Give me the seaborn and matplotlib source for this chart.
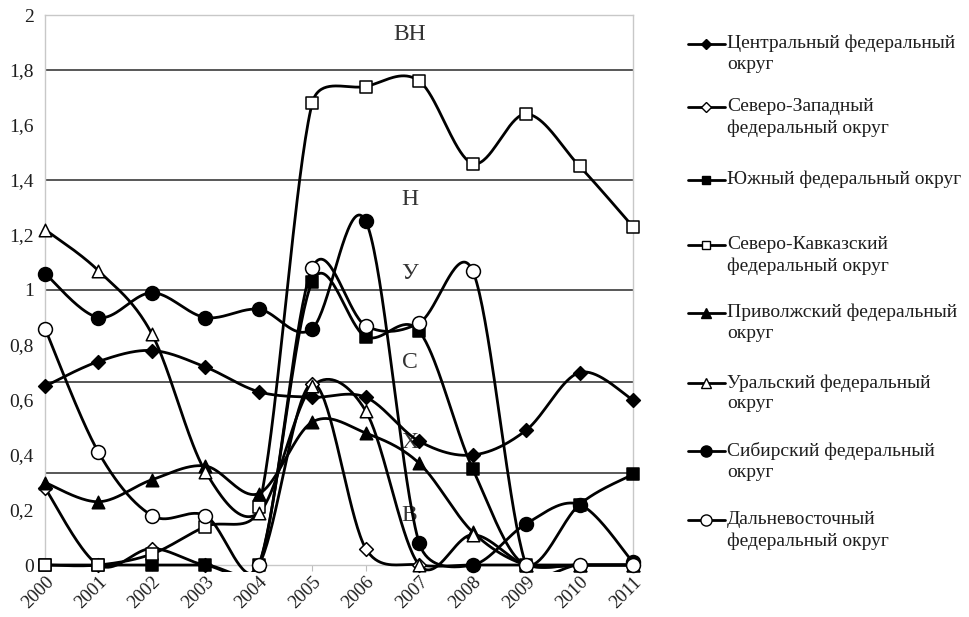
import numpy as np
import pandas as pd
import matplotlib
matplotlib.use("Agg")
import matplotlib.pyplot as plt
import seaborn as sns
from matplotlib.lines import Line2D
from matplotlib.patches import Rectangle

# ---------------- data ----------------
years = list(range(2000, 2012))
year_labels = [str(y) for y in years]

central = [0.65, 0.74, 0.78, 0.72, 0.63, 0.61, 0.61, 0.45, 0.40, 0.49, 0.70, 0.60]
north_west = [0.28, 0.0, 0.06, 0.0, 0.0, 0.66, 0.06, 0.0, 0.0, 0.0, 0.0, 0.0]
south = [0.0, 0.0, 0.0, 0.0, 0.0, 1.03, 0.83, 0.85, 0.35, 0.0, 0.22, 0.33]
north_caucasus = [0.0, 0.0, 0.04, 0.14, 0.21, 1.68, 1.74, 1.76, 1.46, 1.64, 1.45, 1.23]
volga = [0.30, 0.23, 0.31, 0.36, 0.26, 0.52, 0.48, 0.37, 0.12, 0.0, 0.0, 0.0]
ural = [1.22, 1.07, 0.84, 0.34, 0.19, 0.65, 0.56, 0.0, 0.11, 0.0, 0.0, 0.0]
siberian = [1.06, 0.90, 0.99, 0.90, 0.93, 0.86, 1.25, 0.08, 0.0, 0.15, 0.22, 0.01]
far_east = [0.86, 0.41, 0.18, 0.18, 0.0, 1.08, 0.87, 0.88, 1.07, 0.0, 0.0, 0.0]

series_names = [
    "Центральный федеральный\nокруг",
    "Северо-Западный\nфедеральный округ",
    "Южный федеральный округ",
    "Северо-Кавказский\nфедеральный округ",
    "Приволжский федеральный\nокруг",
    "Уральский федеральный\nокруг",
    "Сибирский федеральный\nокруг",
    "Дальневосточный\nфедеральный округ",
]
series_values = [central, north_west, south, north_caucasus, volga, ural, siberian, far_east]

zone_levels = [1 / 3, 2 / 3, 1.0, 1.4, 1.8]
zone_labels = ["ВН", "Н", "У", "С", "Х", "В"]
zone_label_y = [1.93, 1.33, 1.06, 0.735, 0.447, 0.18]

y_ticks = [0, 0.2, 0.4, 0.6, 0.8, 1.0, 1.2, 1.4, 1.6, 1.8, 2.0]
y_tick_labels = ["0", "0,2", "0,4", "0,6", "0,8", "1", "1,2", "1,4", "1,6", "1,8", "2"]

# ---------------- styles ----------------
styles = [
    dict(marker="D", ms=7, face="black"),
    dict(marker="D", ms=7, face="white"),
    dict(marker="s", ms=8, face="black"),
    dict(marker="s", ms=8, face="white"),
    dict(marker="^", ms=9, face="black"),
    dict(marker="^", ms=9, face="white"),
    dict(marker="o", ms=10, face="black"),
    dict(marker="o", ms=10, face="white"),
]

PX_X = 53.45   # pixels per year
PX_Y = 275.0   # pixels per unit


def smooth(x, y, n=40):
    """Excel-like smoothed line: Bezier with 1/6 handles, limited to half segment."""
    P = np.column_stack([np.asarray(x, float) * PX_X, np.asarray(y, float) * PX_Y])
    Pext = np.vstack([P[0], P, P[-1]])
    out = []
    t = np.linspace(0, 1, n)
    for i in range(len(P) - 1):
        p0, p1, p2, p3 = Pext[i], Pext[i + 1], Pext[i + 2], Pext[i + 3]
        d12 = np.hypot(*(p2 - p1))
        d02 = np.hypot(*(p2 - p0))
        d13 = np.hypot(*(p3 - p1))
        f1 = 1 / 6 if d02 / 6 < d12 / 2 or d02 == 0 else (d12 / 2) / d02
        f2 = 1 / 6 if d13 / 6 < d12 / 2 or d13 == 0 else (d12 / 2) / d13
        c1 = p1 + (p2 - p0) * f1
        c2 = p2 - (p3 - p1) * f2
        seg = ((1 - t) ** 3)[:, None] * p1 + (3 * (1 - t) ** 2 * t)[:, None] * c1 \
            + (3 * (1 - t) * t ** 2)[:, None] * c2 + (t ** 3)[:, None] * p2
        out.append(seg if i == 0 else seg[1:])
    res = np.vstack(out)
    return res[:, 0] / PX_X, res[:, 1] / PX_Y


sns.set_theme(style="white")
plt.rcParams["font.family"] = ["Liberation Serif", "DejaVu Serif"]
text_color = "#1e1e1e"

fig = plt.figure(figsize=(9.70, 6.17), dpi=100)
ax = fig.add_axes([45 / 970, 1 - 565 / 617, 588 / 970, 550 / 617])
ax.set_facecolor("white")

for yl in zone_levels:
    ax.axhline(yl, color="#4a4a4a", lw=1.3, zorder=1)

clip_rect = Rectangle((0, -0.012), 1, 1.03, transform=ax.transAxes, visible=False)
ax.add_patch(clip_rect)

for name, vals, st in zip(series_names, series_values, styles):
    xs, ys = smooth(years, vals)
    df_line = pd.DataFrame({"x": xs, "y": ys})
    ln = sns.lineplot(data=df_line, x="x", y="y", ax=ax, color="black", lw=2.0,
                      sort=False, estimator=None, legend=False, zorder=3)
    ln.lines[-1].set_clip_path(clip_rect)
    df_pts = pd.DataFrame({"x": years, "y": vals})
    sns.scatterplot(data=df_pts, x="x", y="y", ax=ax, marker=st["marker"],
                    s=st["ms"] ** 2, color=st["face"], edgecolor="black",
                    linewidth=1.1, legend=False, zorder=4, clip_on=False)

ax.set_xlim(2000, 2011)
ax.set_ylim(0, 2)
ax.set_xticks(years)
ax.set_xticklabels(year_labels, rotation=45, ha="right", rotation_mode="anchor",
                   fontsize=13.5, color=text_color)
ax.set_yticks(y_ticks)
ax.set_yticklabels(y_tick_labels, fontsize=14, color=text_color)
ax.tick_params(axis="x", length=4, width=0.8, color="#bdbdbd", pad=2, bottom=True)
ax.tick_params(axis="y", length=0, pad=8)
ax.set_xlabel("")
ax.set_ylabel("")
for side in ["left", "right", "top", "bottom"]:
    ax.spines[side].set_visible(True)
    ax.spines[side].set_color("#c8c8c8")
    ax.spines[side].set_linewidth(1.0)

for lab, yv in zip(zone_labels, zone_label_y):
    ax.text(2006.82, yv, lab, ha="center", va="center", fontsize=17,
            color="#333333", zorder=2)

# ---------------- legend (drawn to match Excel layout) ----------------
handle_y = [44, 107, 180, 245, 313, 383, 451, 520]
for name, st, hy in zip(series_names, styles, handle_y):
    fy = 1 - hy / 617
    fig.add_artist(Line2D([688 / 970, 725 / 970], [fy, fy], transform=fig.transFigure,
                          color="black", lw=2.0))
    fig.add_artist(Line2D([706.5 / 970], [fy], transform=fig.transFigure,
                          marker=st["marker"], ms=st["ms"] * 0.8,
                          markerfacecolor=st["face"], markeredgecolor="black",
                          markeredgewidth=1.0, lw=0))
    fig.text(727 / 970, fy + 9 / 617, name, ha="left", va="top", fontsize=14,
             color=text_color, linespacing=1.3)

fig.savefig("out.png", dpi=100)
